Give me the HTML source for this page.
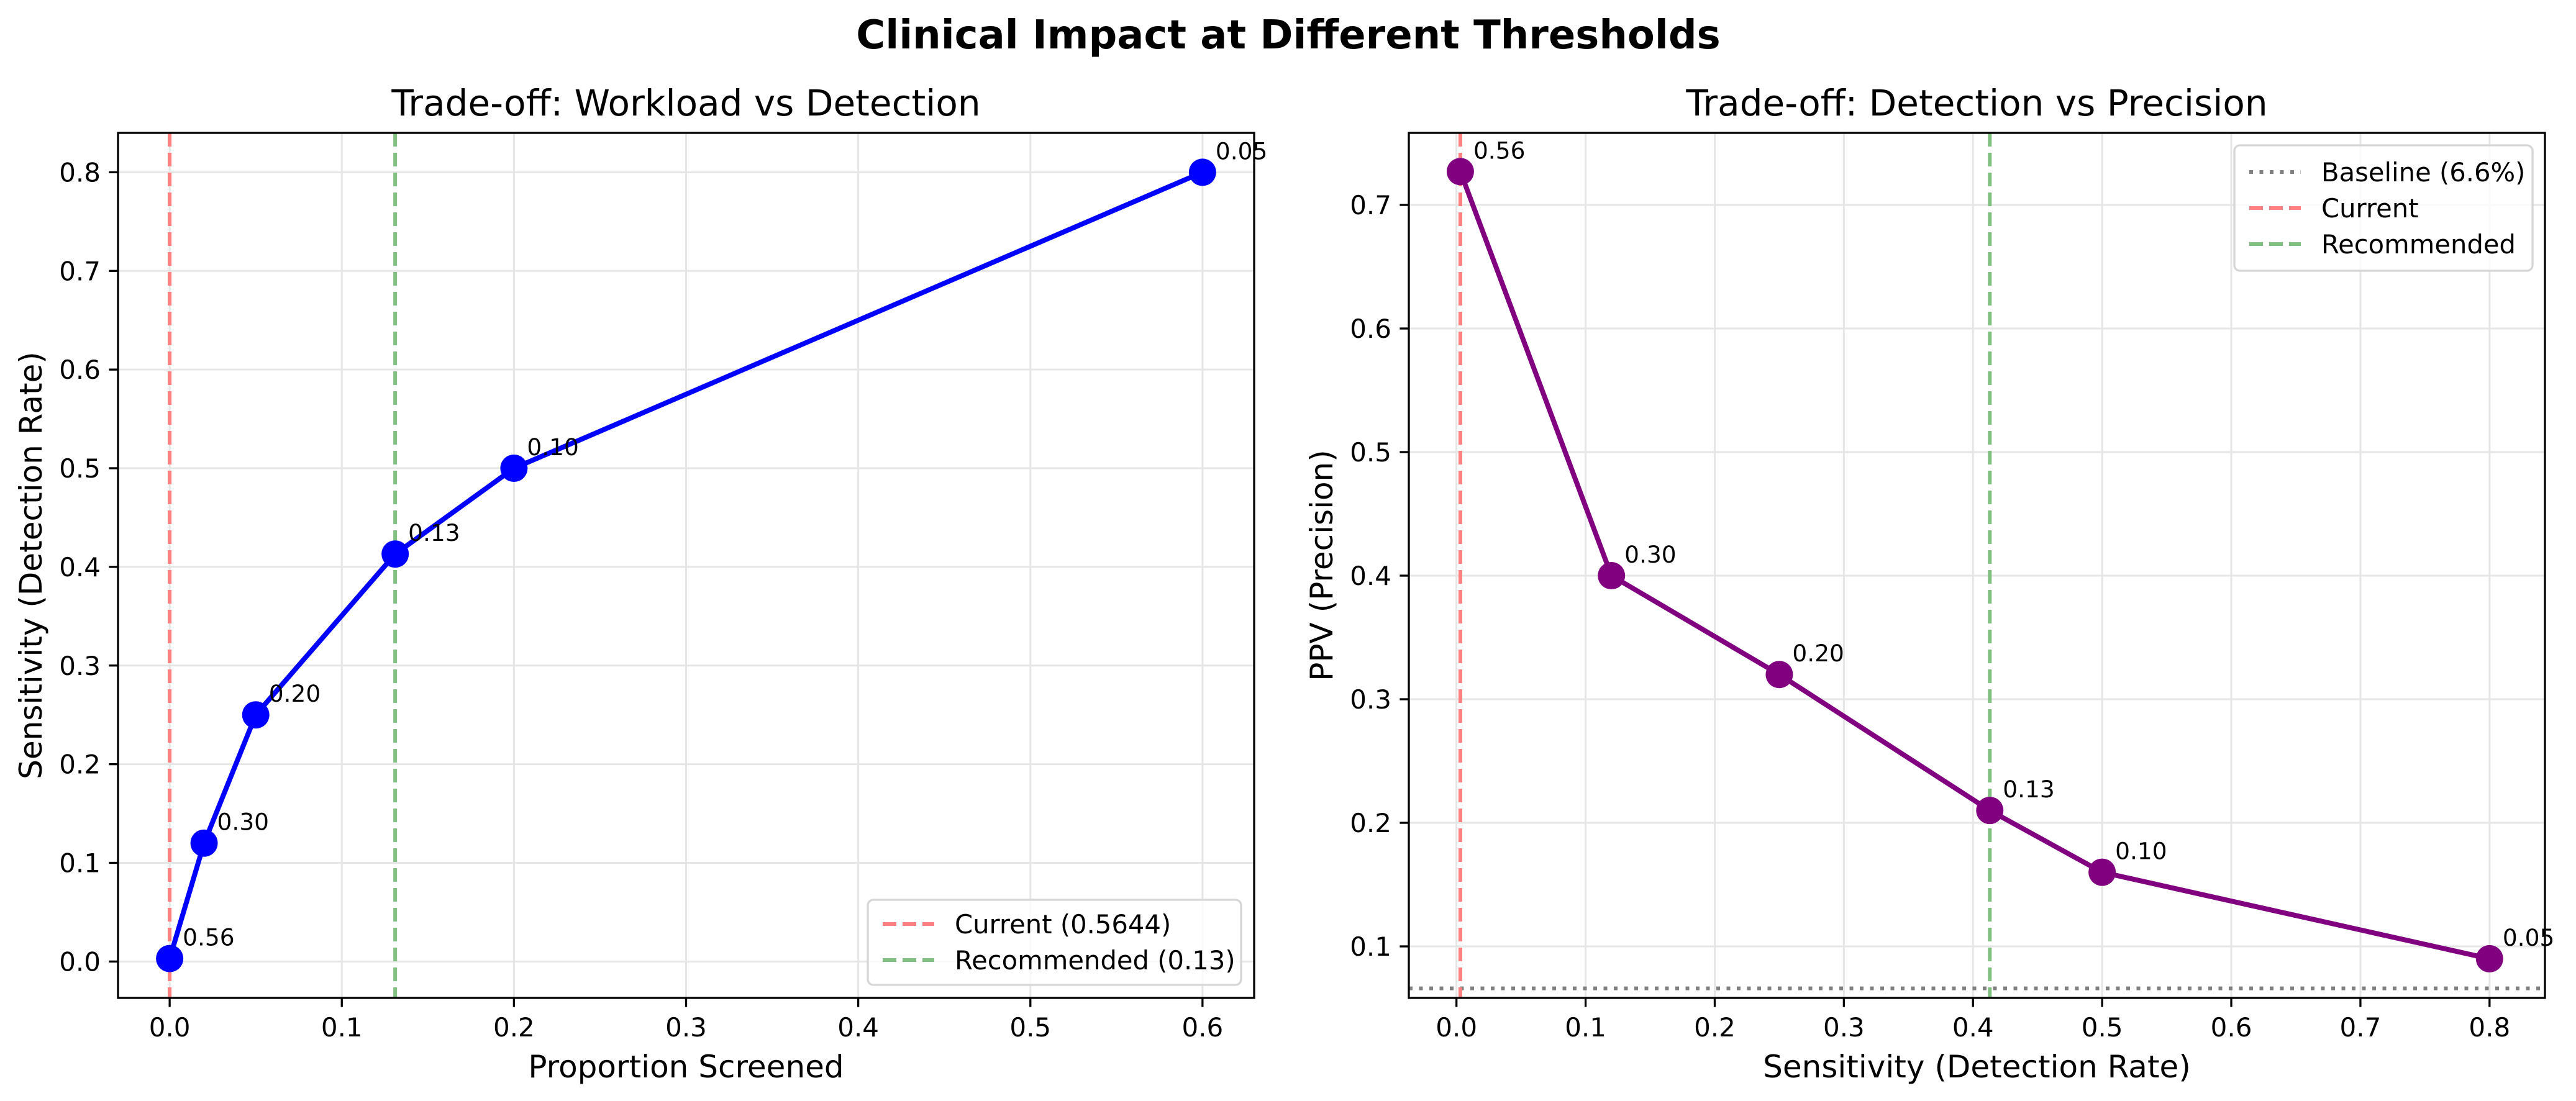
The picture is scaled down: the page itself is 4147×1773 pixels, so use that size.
<!DOCTYPE html>
<html><head><meta charset="utf-8">
<style>
html,body{margin:0;padding:0;background:#fff;}
svg{display:block;font-family:"DejaVu Sans","Liberation Sans",sans-serif;}
</style></head>
<body>
<svg id="fig" width="4147" height="1773" viewBox="0 0 4147 1773" xmlns="http://www.w3.org/2000/svg">
<rect width="4147" height="1773" fill="#fff"/>
<text x="2074" y="78" font-size="64" font-weight="bold" text-anchor="middle">Clinical Impact at Different Thresholds</text>
<g id="left"></g>
<g id="right"></g>
</svg>
<script>
// Left chart data
const thresholdLabels = ["0.56","0.30","0.20","0.13","0.10","0.05"];
const proportionScreened = [0.0, 0.02, 0.05, 0.131, 0.2, 0.6];
const sensitivity = [0.003, 0.12, 0.25, 0.413, 0.5, 0.8];
const ppv = [0.727, 0.40, 0.32, 0.21, 0.16, 0.09];
const leftXTicks = [0.0, 0.1, 0.2, 0.3, 0.4, 0.5, 0.6];
const leftYTicks = [0.0, 0.1, 0.2, 0.3, 0.4, 0.5, 0.6, 0.7, 0.8];
const rightXTicks = [0.0, 0.1, 0.2, 0.3, 0.4, 0.5, 0.6, 0.7, 0.8];
const rightYTicks = [0.1, 0.2, 0.3, 0.4, 0.5, 0.6, 0.7];
const leftCurrentX = 0.0;
const leftRecommendedX = 0.131;
const rightCurrentX = 0.003;
const rightRecommendedX = 0.413;
const baselinePPV = 0.066;

const NS = "http://www.w3.org/2000/svg";
function mk(parent, tag, attrs, text){
  const e = document.createElementNS(NS, tag);
  for (const k in attrs) e.setAttribute(k, attrs[k]);
  if (text !== undefined) e.textContent = text;
  parent.appendChild(e);
  return e;
}
function scale(d0,d1,r0,r1){ return v => r0 + (v-d0)/(d1-d0)*(r1-r0); }

function drawAxes(g, box, xd, yd, xt, yt, title, xlabel, ylabel, ylabX){
  const X = scale(xd[0], xd[1], box.l, box.r);
  const Y = scale(yd[0], yd[1], box.b, box.t);
  xt.forEach(v => {
    const gl = mk(g,'line',{x1:X(v),x2:X(v),y1:box.t,y2:box.b,stroke:'#e6e6e6','stroke-width':3});
    
    
  });
  yt.forEach(v => {
    const gl = mk(g,'line',{x1:box.l,x2:box.r,y1:Y(v),y2:Y(v),stroke:'#e6e6e6','stroke-width':3});
    
    
  });
  xt.forEach(v => {
    const tk = mk(g,'line',{x1:X(v),x2:X(v),y1:box.b,y2:box.b+14.6,stroke:'#000','stroke-width':3.3});
    
    
    const tl = mk(g,'text',{x:X(v),y:box.b+62,'font-size':42,'text-anchor':'middle'}, v.toFixed(1));
    
    
  });
  yt.forEach(v => {
    const tk = mk(g,'line',{x1:box.l-14.6,x2:box.l,y1:Y(v),y2:Y(v),stroke:'#000','stroke-width':3.3});
    
    
    const tl = mk(g,'text',{x:box.l-28,y:Y(v)+15,'font-size':42,'text-anchor':'end'}, v.toFixed(1));
    
    
  });
  const t = mk(g,'text',{x:(box.l+box.r)/2,y:box.t-28,'font-size':58,'text-anchor':'middle'}, title);
  
  
  const xl = mk(g,'text',{x:(box.l+box.r)/2,y:box.b+128,'font-size':50,'text-anchor':'middle'}, xlabel);
  
  
  const cy=(box.t+box.b)/2;
  const yl = mk(g,'text',{x:ylabX,y:cy,'font-size':50,'text-anchor':'middle',transform:`rotate(-90 ${ylabX} ${cy})`,'dominant-baseline':'central'}, ylabel);
  
  
  return {X,Y};
}
function vline(g,X,box,v,color,name){
  const l = mk(g,'line',{x1:X(v),x2:X(v),y1:box.t,y2:box.b,stroke:color,'stroke-width':6,'stroke-dasharray':'22 10'});
  
  
}
function series(g,X,Y,xs,ys,color,name){
  const pts = xs.map((x,i)=>X(x)+','+Y(ys[i])).join(' ');
  const pl = mk(g,'polyline',{points:pts,fill:'none',stroke:color,'stroke-width':8,'stroke-linejoin':'round'});
  
  
  xs.forEach((x,i)=>{
    const c = mk(g,'circle',{cx:X(x),cy:Y(ys[i]),r:22,fill:color});
    
    
    const a = mk(g,'text',{x:X(x)+21,y:Y(ys[i])-21,'font-size':37.5}, thresholdLabels[i]);
    
    
  });
}
function legend(g, x0,y0,x1,y1, rows){
  const b = mk(g,'rect',{x:x0,y:y0,width:x1-x0,height:y1-y0,rx:9,fill:'#fff','fill-opacity':0.8,stroke:'#d6d6d6','stroke-width':3.3});
  
  
  rows.forEach(r=>{
    const l = mk(g,'line',{x1:x0+24,x2:x0+107,y1:r.y,y2:r.y,stroke:r.color,'stroke-width':6,'stroke-dasharray':r.dash});
    
    
    const t = mk(g,'text',{x:x0+140,y:r.y+15,'font-size':41.7}, r.label);
    
    
  });
}
function frame(g,box){
  const f = mk(g,'rect',{x:box.l,y:box.t,width:box.r-box.l,height:box.b-box.t,fill:'none',stroke:'#000','stroke-width':3.3});
  
  
}

// Left
{
  const g = document.getElementById('left');
  const box = {l:190,r:2019,t:214,b:1607};
  const {X,Y} = drawAxes(g, box, [-0.03,0.63], [-0.0369,0.8399], leftXTicks, leftYTicks,
    'Trade-off: Workload vs Detection','Proportion Screened','Sensitivity (Detection Rate)',50);
  vline(g,X,box,leftCurrentX,'#ff8080','current-threshold-line');
  vline(g,X,box,leftRecommendedX,'#80c080','recommended-threshold-line');
  series(g,X,Y,proportionScreened,sensitivity,'#0000ff','sensitivity');
  legend(g,1397,1449,1998,1586,[
    {y:1488,color:'#ff8080',dash:'22 10',label:'Current (0.5644)'},
    {y:1546,color:'#80c080',dash:'22 10',label:'Recommended (0.13)'}]);
  frame(g,box);
}
// Right
{
  const g = document.getElementById('right');
  const box = {l:2268,r:4097,t:214,b:1607};
  const {X,Y} = drawAxes(g, box, [-0.0369,0.8429], [0.0583,0.7583], rightXTicks, rightYTicks,
    'Trade-off: Detection vs Precision','Sensitivity (Detection Rate)','PPV (Precision)',2128);
  const bl = mk(g,'line',{x1:box.l,x2:box.r,y1:Y(baselinePPV),y2:Y(baselinePPV),stroke:'#808080','stroke-width':6,'stroke-dasharray':'6 10.5'});
  
  
  vline(g,X,box,rightCurrentX,'#ff8080','current-threshold-line');
  vline(g,X,box,rightRecommendedX,'#80c080','recommended-threshold-line');
  series(g,X,Y,sensitivity,ppv,'#800080','ppv');
  legend(g,3597,234,4077,436,[
    {y:277,color:'#808080',dash:'6 10.5',label:'Baseline (6.6%)'},
    {y:335,color:'#ff8080',dash:'22 10',label:'Current'},
    {y:393,color:'#80c080',dash:'22 10',label:'Recommended'}]);
  frame(g,box);
}
</script>
</body></html>
